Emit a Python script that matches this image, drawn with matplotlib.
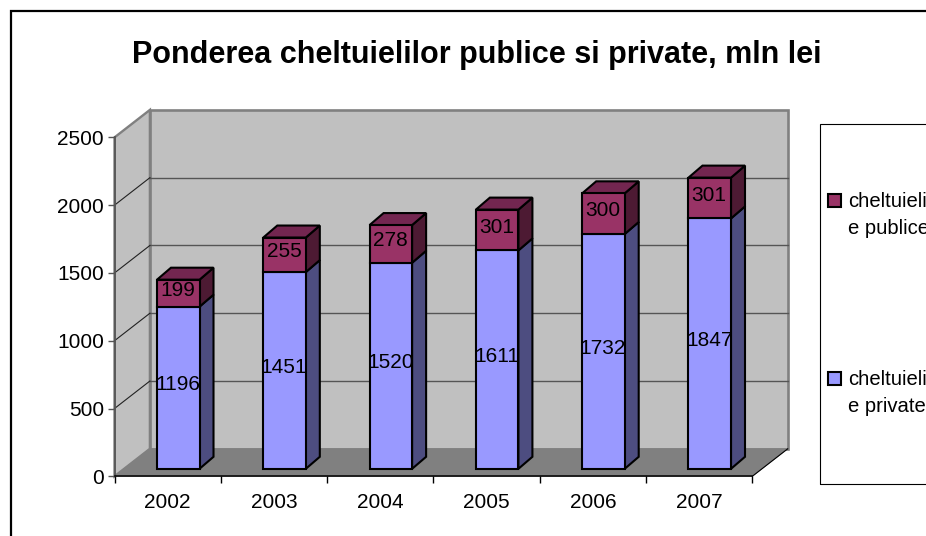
import matplotlib
matplotlib.use("Agg")
import matplotlib.pyplot as plt
from matplotlib.patches import Rectangle, Polygon
from matplotlib.legend_handler import HandlerPatch
from matplotlib.transforms import Affine2D

years = ["2002", "2003", "2004", "2005", "2006", "2007"]
private = [1196, 1451, 1520, 1611, 1732, 1847]
public = [199, 255, 278, 301, 300, 301]
y_ticks = [0, 500, 1000, 1500, 2000, 2500]
title = "Ponderea cheltuielilor publice si private, mln lei"
label_public = "cheltuielil\ne publice"
label_private = "cheltuielil\ne private"

plt.rcParams["font.family"] = ["Liberation Sans", "DejaVu Sans"]
W, H = 926, 536
fig = plt.figure(figsize=(W / 100, H / 100), dpi=100, facecolor="white")


def fx(px):
    return px / W


def fy(py):
    return 1 - py / H


ax = fig.add_axes([fx(114.5), fy(476.3), fx(752.3) - fx(114.5), fy(137.4) - fy(476.3)])
ax.set_xlim(0, len(years))
ax.set_ylim(0, y_ticks[-1])
ax.patch.set_alpha(0)
for s in ("top", "right"):
    ax.spines[s].set_visible(False)
ax.spines["left"].set_color("#555555")
ax.spines["left"].set_linewidth(1.3)
ax.spines["bottom"].set_color("black")
ax.spines["bottom"].set_linewidth(1.1)


def shifted(dx, dy):
    return ax.transData + Affine2D().translate(dx, dy)


WALL_DX, WALL_DY = 35.4, 27.5
BAR_DX, BAR_DY = 10.6, 7.5
SIDE_DX, SIDE_DY = 14.0, 12.0
BAR_W = 0.40
x0, x1 = ax.get_xlim()
y0, y1 = ax.get_ylim()
back = shifted(WALL_DX, WALL_DY)
base = ax.transData


def to_display(points_transforms):
    # each vertex is a data point carried through a depth transform
    return [t.transform(p) for p, t in points_transforms]


def face(points_transforms, **kw):
    poly = Polygon(to_display(points_transforms), closed=True, clip_on=False, **kw)
    ax.add_artist(poly)
    poly.set_transform(Affine2D())
    return poly


fig.canvas.draw()

# walls and floor
face([((x0, y0), back), ((x1, y0), back), ((x1, y1), back), ((x0, y1), back)],
     facecolor="#C0C0C0", edgecolor="#808080", linewidth=1.9, zorder=0.5)
face([((x0, y0), base), ((x0, y0), back), ((x0, y1), back), ((x0, y1), base)],
     facecolor="#C0C0C0", edgecolor="#808080", linewidth=1.7, zorder=0.6)
face([((x0, y0), base), ((x1, y0), base), ((x1, y0), back), ((x0, y0), back)],
     facecolor="#808080", edgecolor="#808080", linewidth=0.6, zorder=0.7)

# gridlines on the back and side walls
for t in y_ticks[1:-1]:
    ax.plot([x0, x1], [t, t], transform=back, color="#555555", lw=1.0, zorder=0.8, clip_on=False)
for t in y_ticks[1:-1]:
    a, b = to_display([((x0, t), base), ((x0, t), back)])
    ax.plot([a[0], b[0]], [a[1], b[1]], transform=Affine2D(), color="#222222",
            lw=0.8, zorder=0.8, clip_on=False)
a, b = to_display([((x1, y0), base), ((x1, y0), back)])
ax.plot([a[0], b[0]], [a[1], b[1]], transform=Affine2D(), color="black", lw=0.8, zorder=0.8, clip_on=False)

# stacked bars
front = shifted(BAR_DX, BAR_DY)
rear = shifted(BAR_DX + SIDE_DX, BAR_DY + SIDE_DY)
centers = [i + 0.5 for i in range(len(years))]
EDGE = dict(edgecolor="black", linewidth=1.5)
h_private = ax.bar(centers, private, width=BAR_W, color="#9999FF", transform=front,
                   clip_on=False, zorder=3, **EDGE)
h_public = ax.bar(centers, public, bottom=private, width=BAR_W, color="#993366", transform=front,
                  clip_on=False, zorder=3, **EDGE)

for c, p, q in zip(centers, private, public):
    l, r = c - BAR_W / 2, c + BAR_W / 2
    face([((r, 0), front), ((r, p), front), ((r, p), rear), ((r, 0), rear)],
         facecolor="#4D4D80", zorder=2.5, **EDGE)
    face([((r, p), front), ((r, p + q), front), ((r, p + q), rear), ((r, p), rear)],
         facecolor="#4D1A33", zorder=2.6, **EDGE)
    face([((l, p + q), front), ((r, p + q), front), ((r, p + q), rear), ((l, p + q), rear)],
         facecolor="#732650", zorder=2.7, **EDGE)
    lab = shifted(BAR_DX - 0.5, BAR_DY + 3)
    ax.text(c, p / 2, str(p), transform=lab, ha="center", va="center", fontsize=15,
            color="black", zorder=5, clip_on=False)
    ax.text(c, p + q / 2, str(q), transform=lab, ha="center", va="center", fontsize=15,
            color="black", zorder=5, clip_on=False)

# axes ticks
ax.set_yticks(y_ticks)
ax.set_yticklabels([str(t) for t in y_ticks], fontsize=15)
ax.tick_params(axis="y", length=5, width=1, color="#555555", pad=2.5)
ax.set_xticks(range(len(years) + 1))
ax.set_xticklabels([])
ax.set_xticks(centers, minor=True)
ax.set_xticklabels(years, minor=True, fontsize=15)
ax.tick_params(axis="x", which="major", length=5, width=1, color="black")
ax.tick_params(axis="x", which="minor", length=0, pad=12)

# title, frames
fig.text(fx(477), fy(55), title, ha="center", va="center", fontsize=22, fontweight="bold", color="black")
fig.add_artist(Rectangle((fx(11), fy(600)), fx(1000), fy(11) - fy(600), transform=fig.transFigure,
                         facecolor="none", edgecolor="black", linewidth=1.6, zorder=-1))
fig.add_artist(Rectangle((fx(820.3), fy(484)), fx(300), fy(124) - fy(484), transform=fig.transFigure,
                         facecolor="none", edgecolor="black", linewidth=0.8))


def raised_key(legend, orig_handle, xdescent, ydescent, width, height, fontsize):
    # the key sits beside the first of the two label lines
    return Rectangle((-xdescent, -ydescent + 0.74 * fontsize), width, height)


leg = fig.legend([h_public[0], h_private[0]], [label_public, label_private],
                 loc="upper left", bbox_to_anchor=(fx(828), fy(192)), frameon=False,
                 fontsize=14.6, labelspacing=6.5, handlelength=0.62, handleheight=0.62,
                 handletextpad=0.35, borderpad=0, borderaxespad=0, labelcolor="black",
                 handler_map={Rectangle: HandlerPatch(patch_func=raised_key)})
for txt in leg.get_texts():
    txt.set_linespacing(1.55)

fig.savefig("out.png", dpi=100)
